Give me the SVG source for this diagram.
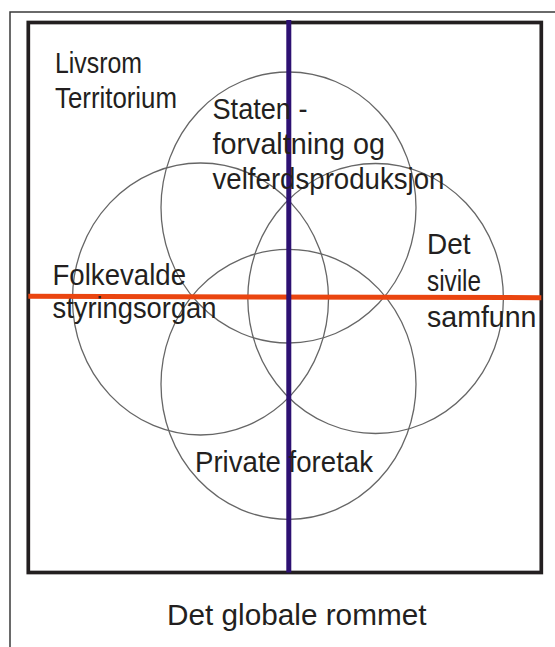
<svg xmlns="http://www.w3.org/2000/svg" width="555" height="647" viewBox="0 0 555 647">
<style>
  .lbl { font-family: "Liberation Sans", Arial, sans-serif; font-size: 29.5px; fill: #231f20; }
  .ring { fill: none; stroke: #666666; stroke-width: 1.3; }
</style>
<rect x="0" y="0" width="555" height="647" fill="#ffffff"/>
<g id="frame">
  <path d="M10,647 V12 H555" fill="none" stroke="#3a3a3a" stroke-width="1.5"/>
  <rect x="28.3" y="22.5" width="513" height="550" fill="none" stroke="#231f20" stroke-width="3.7"/>
</g>
<g id="staten">
  <ellipse class="ring" cx="288.5" cy="207.5" rx="127.5" ry="135.5"/>
</g>
<g id="folkevalde">
  <ellipse class="ring" cx="200.5" cy="299" rx="128" ry="136"/>
</g>
<g id="sivile">
  <ellipse class="ring" cx="375.6" cy="298.5" rx="127.8" ry="135"/>
</g>
<g id="private">
  <ellipse class="ring" cx="288.5" cy="384.3" rx="127.5" ry="135"/>
</g>
<g id="connectors">
  <line x1="28.3" y1="296.3" x2="541.3" y2="297.7" stroke="#ea4510" stroke-width="5"/>
  <line x1="288.8" y1="20" x2="288.8" y2="572.5" stroke="#2d1172" stroke-width="5"/>
</g>
<g id="labels">
  <text class="lbl" x="55" y="72.5" textLength="87" lengthAdjust="spacingAndGlyphs">Livsrom</text>
  <text class="lbl" x="55" y="108" textLength="122" lengthAdjust="spacingAndGlyphs">Territorium</text>
  <text class="lbl" x="212.5" y="118.5" textLength="95" lengthAdjust="spacingAndGlyphs">Staten -</text>
  <text class="lbl" x="212.5" y="154" textLength="172.5" lengthAdjust="spacingAndGlyphs">forvaltning og</text>
  <text class="lbl" x="212.5" y="188.5" textLength="232" lengthAdjust="spacingAndGlyphs">velferdsproduksjon</text>
  <text class="lbl" x="52.5" y="285" textLength="133.5" lengthAdjust="spacingAndGlyphs">Folkevalde</text>
  <text class="lbl" x="52.5" y="317.5" textLength="164" lengthAdjust="spacingAndGlyphs">styringsorgan</text>
  <text class="lbl" x="427" y="254.3" textLength="43.5" lengthAdjust="spacingAndGlyphs">Det</text>
  <text class="lbl" x="427" y="290.5" textLength="54" lengthAdjust="spacingAndGlyphs">sivile</text>
  <text class="lbl" x="427" y="326.5" textLength="109.5" lengthAdjust="spacingAndGlyphs">samfunn</text>
  <text class="lbl" x="195" y="471.7" textLength="178" lengthAdjust="spacingAndGlyphs">Private foretak</text>
  <text class="lbl" x="167" y="625" textLength="259.5" lengthAdjust="spacingAndGlyphs">Det globale rommet</text>
</g>
</svg>
